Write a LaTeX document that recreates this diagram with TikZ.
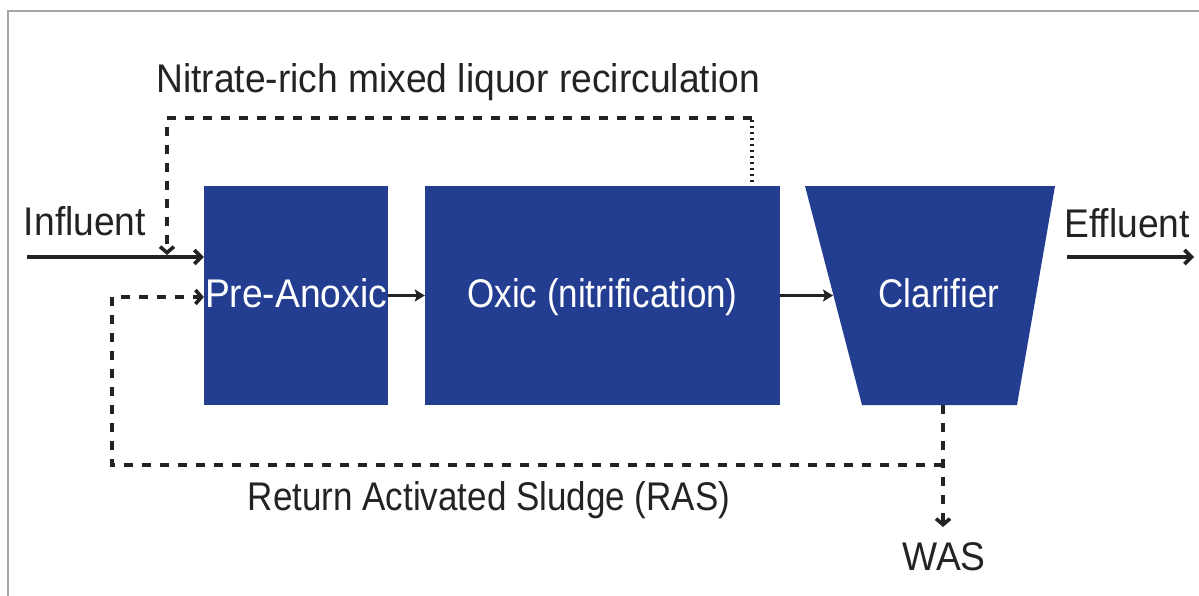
\documentclass[tikz,border=0pt]{standalone}
\usepackage{fontspec}
\setmainfont{Liberation Sans}[FakeStretch=0.93]
\newfontfamily\narrowfont{Liberation Sans}[FakeStretch=0.875]
\usetikzlibrary{arrows.meta}
\definecolor{boxblue}{RGB}{35,62,145}
\definecolor{ink}{RGB}{35,35,35}
\definecolor{framegray}{RGB}{165,165,165}
\begin{document}
\begin{tikzpicture}[x=1pt,y=-1pt,
  tank/.style={fill=boxblue, draw=none, text=white, inner sep=0pt, text height=24pt, text depth=0pt},
  lbl/.style={text=ink, inner sep=0pt, anchor=base},
  flow/.style={draw=ink, line width=3.6pt, -{Straight Barb[length=7pt,width=14pt]}},
  link/.style={draw=ink, line width=3.4pt, -{Stealth[length=10pt,width=12pt,inset=2pt]}},
  recycle/.style={draw=ink, line width=3.6pt, dash pattern=on 9pt off 9pt},
  rtip/.style={-{Straight Barb[length=6pt,width=14pt]}},
  dotline/.style={draw=ink, line width=3.4pt, dash pattern=on 2.5pt off 3.5pt},
  font=\fontsize{40}{42}\selectfont]
\useasboundingbox (0,0) rectangle (1199,595);
\fill[white] (0,0) rectangle (1199,595);
\draw[framegray, line width=2pt] (8,600) -- (8,11) -- (1205,11);

% tanks
\node[tank, minimum width=184pt, minimum height=219pt] (pre) at (296,295.5) {Pre-Anoxic};
\node[tank, minimum width=355pt, minimum height=219pt, font=\narrowfont\fontsize{40}{42}\selectfont] (oxic) at (602.5,295.5) {Oxic (nitrification)};
\fill[boxblue] (805,186) -- (1055,186) -- (1017,405) -- (862,405) -- cycle;
\node[text=white, inner sep=0pt, anchor=base, font=\narrowfont\fontsize{40}{42}\selectfont] (clar) at (939,307) {Clarifier};
\coordinate (clarL) at (833,295.5);
\coordinate (clarB) at (943,405);

% labels
\node[lbl] (nitr) at (458,92) {Nitrate-rich mixed liquor recirculation};
\node[lbl] (infl) at (85,235) {Influent};
\node[lbl] (effl) at (1127,237) {Effluent};
\node[lbl, font=\narrowfont\fontsize{40}{42}\selectfont] (ras) at (489,510) {Return Activated Sludge (RAS)};
\node[lbl] (was) at (944,570) {WAS};

% main flow
\coordinate (inStart) at (27,257);
\draw[flow] (inStart) -- (pre.west |- inStart);
\draw[link] (pre.east) -- (oxic.west);
\draw[link] (oxic.east) -- (clarL);
\coordinate (outStart) at (1067,257);
\coordinate (outEnd) at (1194,257);
\draw[flow] (outStart) -- (outEnd);

% nitrate recirculation
\coordinate (nA) at (752,182);
\coordinate (nB) at (752,118);
\coordinate (nC) at (167,118);
\coordinate (nD) at (167,255);
\draw[dotline] (nA) -- (nB);
\draw[recycle, rtip] (nB) -- (nC) -- (nD);

% RAS / WAS
\coordinate (rA) at (943,465);
\coordinate (rB) at (112,465);
\coordinate (rC) at (112,297);
\coordinate (wasEnd) at (943,527);
\draw[recycle, rtip] (clarB) -- (wasEnd);
\draw[recycle, rtip] (rA) -- (rB) -- (rC) -- (pre.west |- rC);
\end{tikzpicture}
\end{document}
